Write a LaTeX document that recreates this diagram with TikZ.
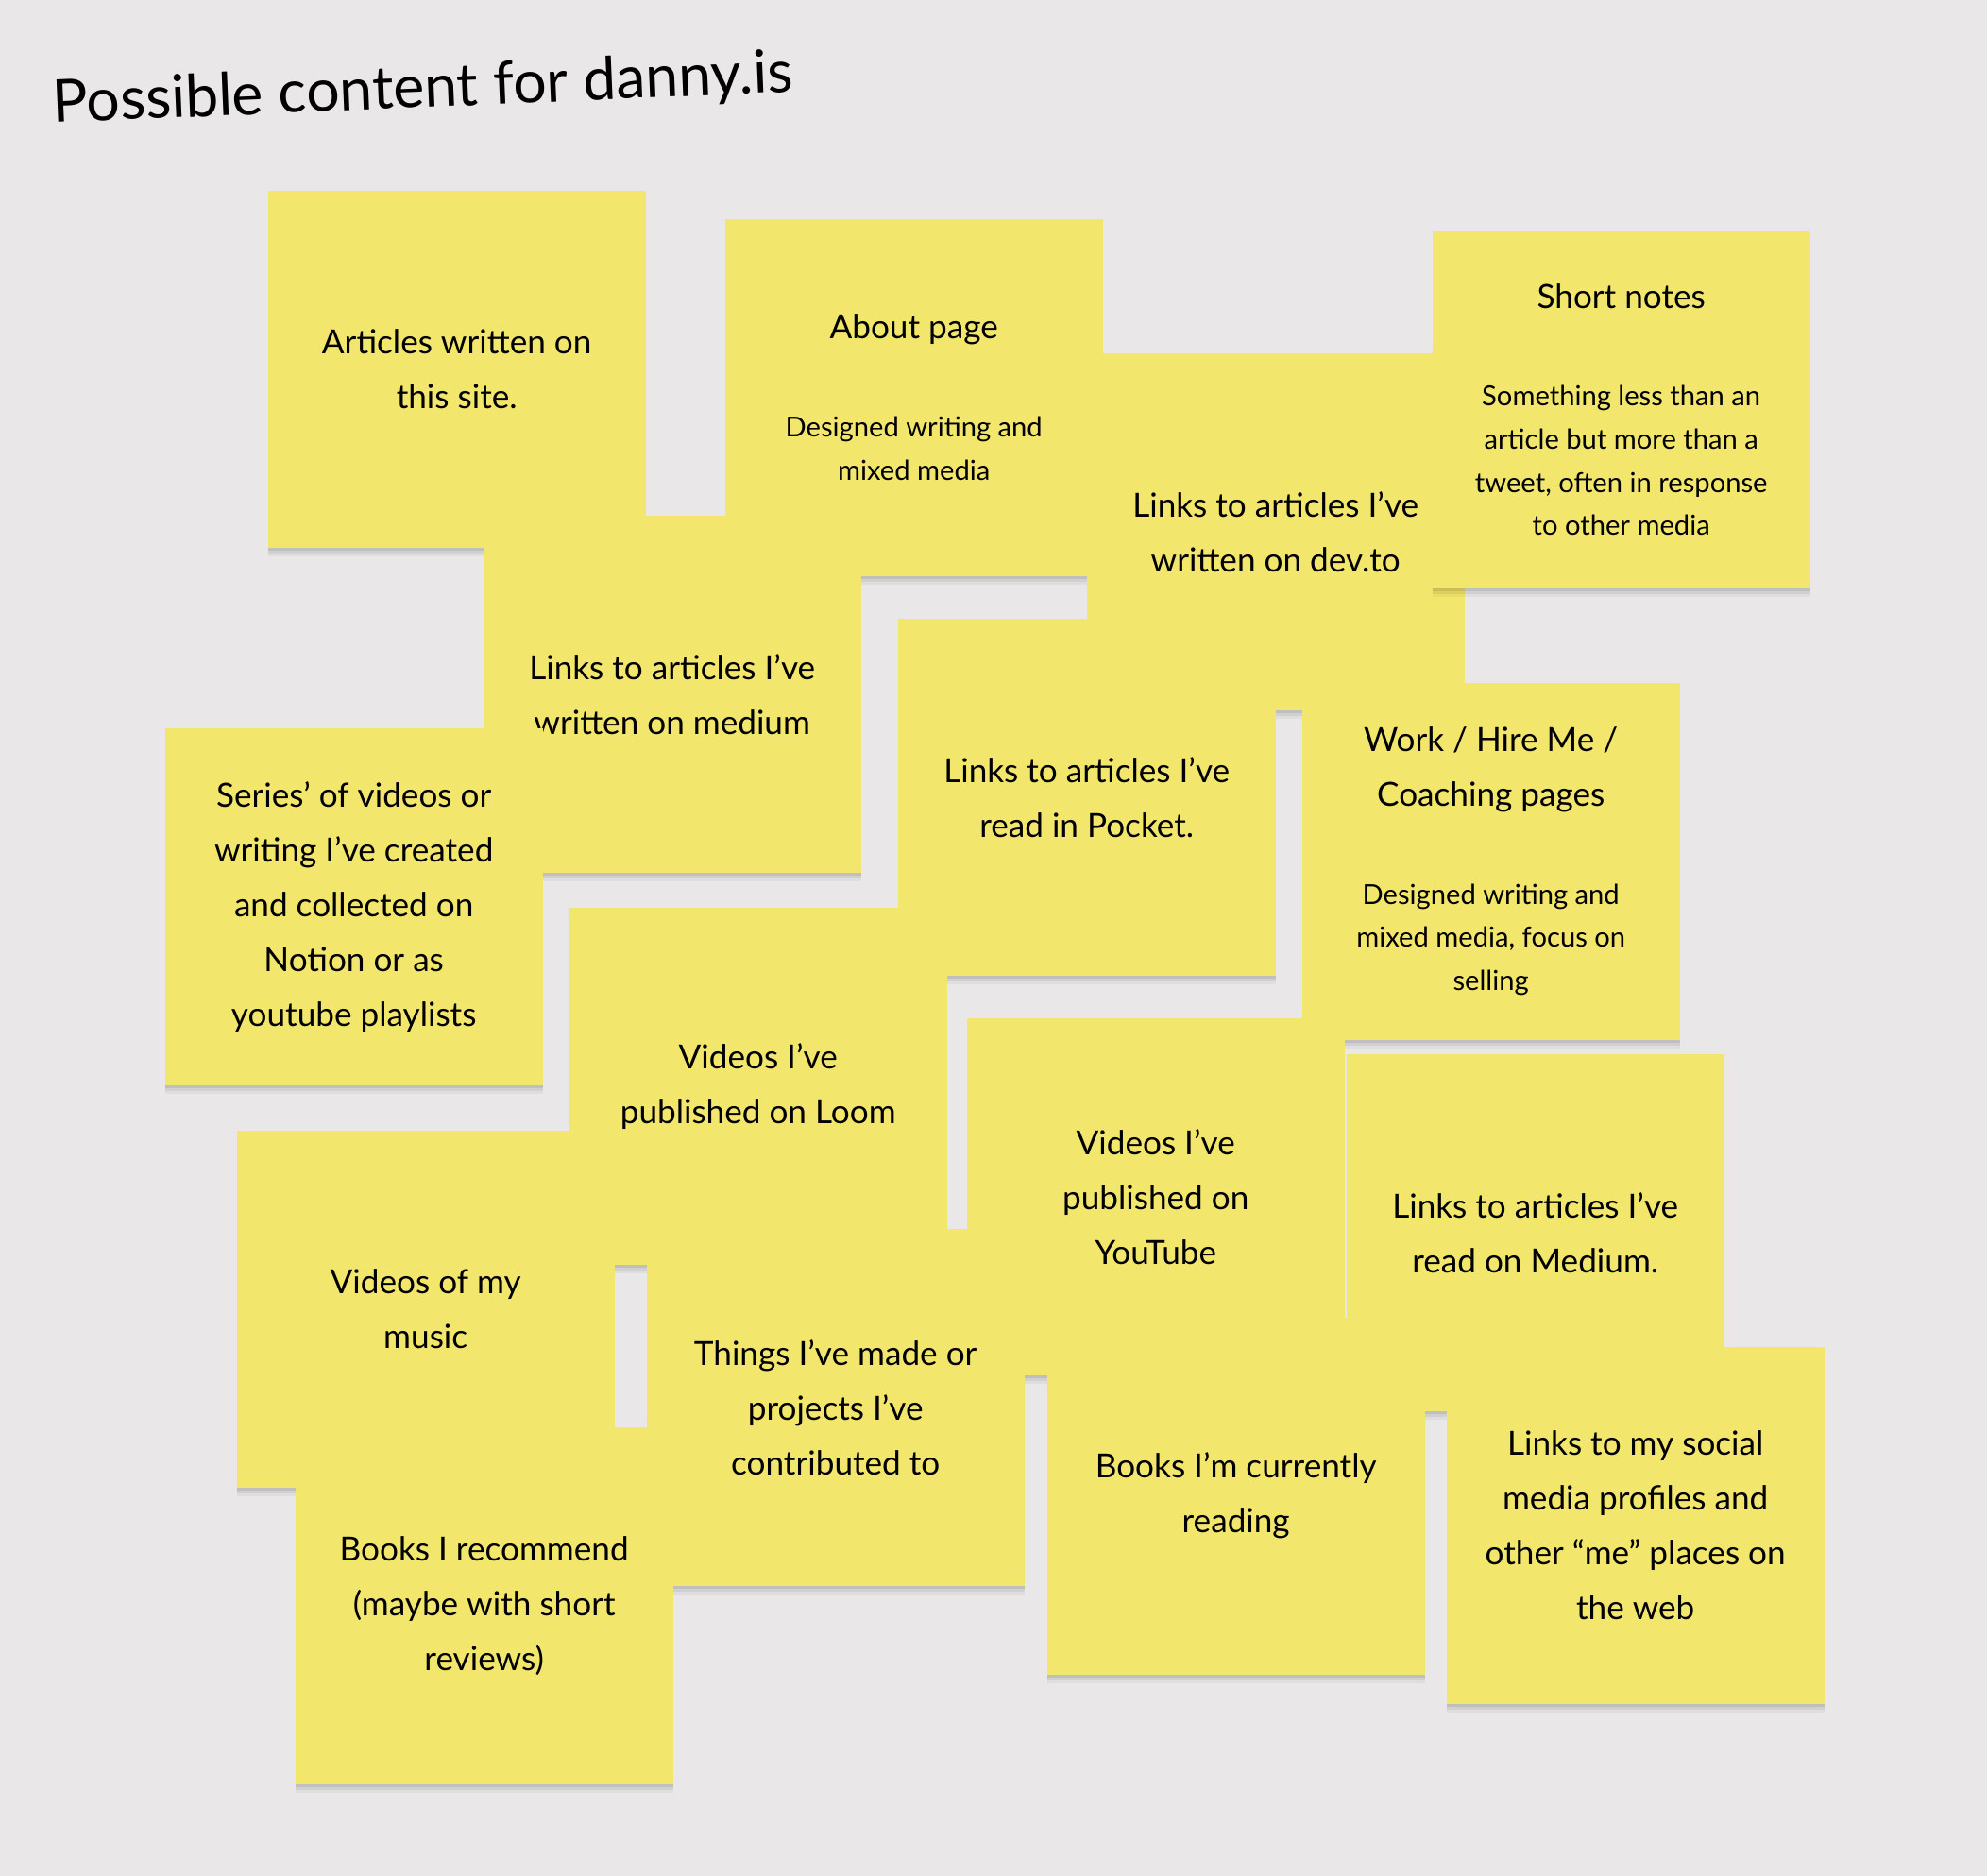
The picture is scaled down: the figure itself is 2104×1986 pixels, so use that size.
\documentclass[tikz,border=0pt]{standalone}
\usepackage{fontspec}
\setmainfont{Lato}
\usepackage{tikz}
\usetikzlibrary{shadows}
\definecolor{boardgray}{RGB}{233,231,232}
\definecolor{stickyyellow}{RGB}{243,230,108}
\newcommand{\bigtxt}{\fontsize{10}{16.5}\selectfont}
\newcommand{\smalltxt}{\fontsize{8.3}{13}\selectfont}
\newcommand{\subtxt}[1]{\par\vspace{5.8mm}{\smalltxt #1\par}}
\tikzset{%
  sticky/.style={%
    anchor=north west,
    fill=stickyyellow,
    minimum width=40mm,
    minimum height=37.8mm,
    text width=38mm,
    align=flush center,
    inner sep=0pt,
    font=\bigtxt,
    general shadow={fill=black,opacity=0.04,shadow yshift=-0.9mm},
    general shadow={fill=black,opacity=0.06,shadow yshift=-0.6mm},
    general shadow={fill=black,opacity=0.08,shadow yshift=-0.3mm}
  }
}

\begin{document}
\begin{tikzpicture}[x=0.1mm,y=-0.1mm]
    \fill[boardgray] (0,0) rectangle (2104,1986);
    \useasboundingbox (0,0) rectangle (2104,1986);

    \node[anchor=base west,rotate=2.4,inner sep=0pt,font=\fontsize{17.8}{22}\selectfont]
      (heading) at (56,130) {Possible content for danny.is};

    % first row
    \node[sticky] (articles) at (283,201) {Articles written on\\this site.};
    \node[sticky] (about) at (767,231) {About page\subtxt{Designed writing and\\mixed media}};
    \node[sticky] (devto) at (1150,373) {Links to articles I’ve\\written on dev.to};
    \node[sticky] (shortnotes) at (1516,244) {Short notes\subtxt{Something less than an\\article but more than a\\tweet, often in response\\to other media}};

    % second row
    \node[sticky] (wmedium) at (511,545) {Links to articles I’ve\\written on medium};
    \node[sticky] (pocket) at (950,654) {Links to articles I’ve\\read in Pocket.};
    \node[sticky] (series) at (174,770) {Series’ of videos or\\writing I’ve created\\and collected on\\Notion or as\\youtube playlists};
    \node[sticky] (hireme) at (1378,722) {Work / Hire Me /\\Coaching pages\subtxt{Designed writing and\\mixed media, focus on\\selling}};

    % third row
    \node[sticky] (loom) at (602,960) {Videos I’ve\\published on Loom};
    \node[sticky] (youtube) at (1023,1077) {Videos I’ve\\published on\\YouTube};
    \node[sticky] (rmedium) at (1425,1115) {Links to articles I’ve\\read on Medium.};
    \node[sticky] (music) at (250,1196) {Videos of my\\music};

    % last row
    \node[sticky] (things) at (684,1300) {Things I’ve made or\\projects I’ve\\contributed to};
    \node[sticky] (reading) at (1108,1394) {Books I’m currently\\reading};
    \node[sticky] (social) at (1531,1425) {Links to my social\\media profiles and\\other “me” places on\\the web};
    \node[sticky] (books) at (312,1510) {Books I recommend\\(maybe with short\\reviews)};
\end{tikzpicture}
\end{document}
